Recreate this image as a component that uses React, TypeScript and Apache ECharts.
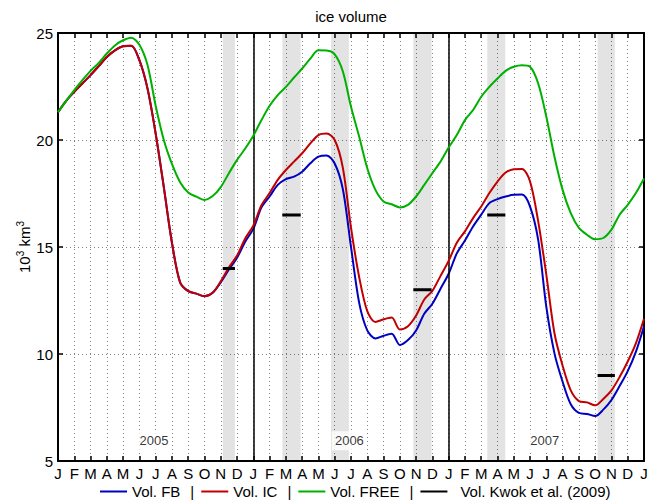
import React, { useEffect, useRef } from 'react';
import * as echarts from 'echarts';

// month tick labels (Jan 2005 .. Jan 2008)
const monthLetters = ['J', 'F', 'M', 'A', 'M', 'J', 'J', 'A', 'S', 'O', 'N', 'D'];

// time in months since 1 Jan 2005
const months = [
  0, 0.5, 1, 1.5, 2, 2.5, 3, 3.5, 4, 4.5, 5, 5.5, 6, 6.5, 7, 7.5, 8, 8.5, 9, 9.5, 10, 10.5, 11, 11.5,
  12, 12.5, 13, 13.5, 14, 14.5, 15, 15.5, 16, 16.5, 17, 17.5, 18, 18.5, 19, 19.5, 20, 20.5, 21, 21.5, 22, 22.5, 23, 23.5,
  24, 24.5, 25, 25.5, 26, 26.5, 27, 27.5, 28, 28.5, 29, 29.5, 30, 30.5, 31, 31.5, 32, 32.5, 33, 33.5, 34, 34.5, 35, 35.5,
  36,
];

const volFB = [
  21.3, 21.83, 22.25, 22.64, 23.03, 23.45, 23.88, 24.19, 24.38, 24.4, 23.73, 22.4, 20.3, 17.8, 15.2, 13.35, 12.94, 12.82, 12.7, 12.86, 13.35, 13.95, 14.5, 15.25,
  15.85, 16.85, 17.36, 17.9, 18.17, 18.29, 18.52, 18.91, 19.22, 19.28, 18.9, 17.7, 15.0, 12.4, 11.1, 10.73, 10.85, 10.95, 10.42, 10.65, 11.1, 11.88, 12.35, 13.05,
  13.75, 14.7, 15.3, 15.96, 16.51, 17.05, 17.24, 17.36, 17.44, 17.45, 16.89, 15.33, 12.2, 10.03, 8.7, 7.65, 7.25, 7.2, 7.1, 7.4, 7.85, 8.5, 9.2, 10.1,
  11.3,
];

const volIC = [
  21.3, 21.83, 22.25, 22.64, 23.03, 23.45, 23.88, 24.19, 24.38, 24.4, 23.73, 22.4, 20.3, 17.8, 15.2, 13.35, 12.94, 12.82, 12.7, 12.86, 13.4, 14.05, 14.6, 15.4,
  16.0, 16.95, 17.52, 18.14, 18.6, 18.99, 19.38, 19.84, 20.23, 20.3, 20.0, 18.7, 15.9, 13.6, 12.0, 11.5, 11.62, 11.7, 11.15, 11.3, 11.8, 12.55, 12.95, 13.65,
  14.35, 15.2, 15.73, 16.35, 16.89, 17.52, 18.06, 18.48, 18.63, 18.65, 18.06, 16.2, 13.7, 10.97, 9.45, 8.3, 7.8, 7.74, 7.6, 7.9, 8.3, 8.92, 9.65, 10.5,
  11.65,
];

const volFREE = [
  21.3, 21.83, 22.33, 22.8, 23.23, 23.6, 24.04, 24.42, 24.66, 24.78, 24.45, 23.5, 21.6, 20.0, 18.88, 18.03, 17.55, 17.35, 17.2, 17.38, 17.8, 18.45, 19.07, 19.6,
  20.2, 20.93, 21.6, 22.1, 22.48, 22.92, 23.34, 23.8, 24.19, 24.18, 24.0, 23.2, 21.55, 20.16, 18.68, 17.67, 17.13, 17.0, 16.85, 16.97, 17.36, 17.9, 18.45, 18.99,
  19.65, 20.23, 20.93, 21.4, 22.02, 22.48, 22.87, 23.23, 23.42, 23.49, 23.42, 22.64, 21.09, 19.22, 17.67, 16.58, 15.89, 15.57, 15.36, 15.42, 15.81, 16.51, 16.97, 17.52,
  18.2,
];

// ICESat campaign periods (grey bands), months since 1 Jan 2005
const campaignStart = [10.12, 13.78, 16.77, 21.83, 26.37, 33.15];
const campaignEnd = [10.87, 14.91, 17.87, 22.95, 27.48, 34.21];

// Kwok et al. (2009) volumes
const kwokStart = [10.12, 13.78, 21.83, 26.37, 33.15];
const kwokEnd = [10.87, 14.91, 22.95, 27.48, 34.21];
const kwokVol = [14, 16.5, 13, 16.5, 9];

const yearLabels = ['2005', '2006', '2007'];
const yearLabelMonth = [5.9, 17.9, 29.9];
const yearLabelLevel = 5.95;
const yearSeparators = [12, 24];

const FONT = '"Liberation Sans", Arial, Helvetica, sans-serif';
const KWOK = 'Vol. Kwok et al. (2009)';

export default function App() {
  const ref = useRef<HTMLDivElement>(null);

  useEffect(() => {
    const chart = echarts.init(ref.current as HTMLDivElement, null, { renderer: 'svg' });
    const pair = (ys: number[]) => months.map((m, i) => [m, ys[i]]);
    const kwokData: any[] = [];
    kwokStart.forEach((s, i) => {
      kwokData.push([s, kwokVol[i]], [kwokEnd[i], kwokVol[i]], [kwokEnd[i], null]);
    });
    const dotted = { color: '#808080', width: 1, type: [1, 3] as any };

    chart.setOption({
      animation: false,
      title: {
        text: 'ice volume',
        left: 351,
        top: 9,
        padding: 0,
        textAlign: 'center',
        textStyle: { fontFamily: FONT, fontSize: 15, fontWeight: 'normal', color: '#000' },
      },
      grid: { left: 58, right: 10, top: 33, bottom: 39, containLabel: false },
      legend: {
        data: [
          { name: 'Vol. FB' },
          { name: 'Vol. IC' },
          { name: 'Vol. FREE' },
          { name: KWOK },
        ],
        left: 99,
        top: 484,
        padding: 0,
        itemWidth: 27,
        itemHeight: 14,
        itemGap: 6,
        itemStyle: { opacity: 0 },
        formatter: (name: string) => (name === KWOK ? '{k|' + name + '}' : '{t|' + name + '}{s||}'),
        textStyle: {
          fontFamily: FONT,
          fontSize: 15,
          color: '#000',
          rich: {
            t: { fontFamily: FONT, fontSize: 15, color: '#000' },
            s: { fontFamily: FONT, fontSize: 15, color: '#000', padding: [0, 0, 0, 10] },
            k: { fontFamily: FONT, fontSize: 15, color: '#000', padding: [0, 0, 0, 8] },
          },
        },
      },
      xAxis: [
        {
          type: 'value',
          min: 0,
          max: 36,
          interval: 1,
          position: 'bottom',
          axisLine: { onZero: false, lineStyle: { color: '#000', width: 2 } },
          axisTick: { inside: true, length: 5, lineStyle: { color: '#000', width: 1.5 } },
          axisLabel: {
            margin: 5,
            fontFamily: FONT,
            fontSize: 15,
            color: '#000',
            formatter: (v: number) => monthLetters[Math.round(v) % 12],
          },
          splitLine: { show: true, lineStyle: dotted },
        },
        {
          type: 'value',
          min: 0,
          max: 36,
          interval: 1,
          position: 'top',
          axisLine: { onZero: false, lineStyle: { color: '#000', width: 2 } },
          axisTick: { inside: true, length: 5, lineStyle: { color: '#000', width: 1.5 } },
          axisLabel: { show: false },
          splitLine: { show: false },
        },
      ],
      yAxis: [
        {
          type: 'value',
          min: 5,
          max: 25,
          interval: 5,
          position: 'left',
          name: '10{sup|3} km{sup|3}',
          nameLocation: 'middle',
          nameRotate: 90,
          nameGap: 24,
          nameMoveOverlap: false,
          nameTextStyle: {
            fontFamily: FONT,
            fontSize: 15,
            color: '#000',
            rich: {
              sup: { fontFamily: FONT, fontSize: 10, color: '#000', padding: [0, 0, 9, 0] },
            },
          },
          axisLine: { onZero: false, lineStyle: { color: '#000', width: 2 } },
          axisTick: { inside: true, length: 5, lineStyle: { color: '#000', width: 1.5 } },
          axisLabel: { margin: 5, fontFamily: FONT, fontSize: 15, color: '#000' },
          splitLine: { show: true, lineStyle: dotted },
        },
        {
          type: 'value',
          min: 5,
          max: 25,
          interval: 5,
          position: 'right',
          axisLine: { onZero: false, lineStyle: { color: '#000', width: 2 } },
          axisTick: { inside: true, length: 5, lineStyle: { color: '#000', width: 1.5 } },
          axisLabel: { show: false },
          splitLine: { show: false },
        },
      ],
      series: [
        {
          type: 'custom',
          name: 'campaigns',
          silent: true,
          z: 1,
          data: campaignStart.map((s, i) => [s, campaignEnd[i]]),
          renderItem: (_p: any, api: any) => {
            const a = api.coord([api.value(0), 25]);
            const b = api.coord([api.value(1), 5]);
            return {
              type: 'rect',
              shape: { x: a[0], y: a[1], width: b[0] - a[0], height: b[1] - a[1] },
              style: { fill: 'rgba(0,0,0,0.11)' },
            };
          },
        },
        {
          type: 'scatter',
          name: 'years',
          silent: true,
          z: 3,
          symbolSize: 1,
          itemStyle: { color: 'rgba(0,0,0,0)' },
          data: yearLabelMonth.map((m, i) => [m, yearLabelLevel, yearLabels[i]]),
          label: {
            show: true,
            position: 'inside',
            formatter: (p: any) => p.value[2],
            fontFamily: FONT,
            fontSize: 13,
            color: '#000',
            backgroundColor: '#fff',
            padding: [3, 3],
          },
        },
        {
          type: 'line',
          name: 'Vol. FB',
          z: 4,
          data: pair(volFB),
          showSymbol: false,
          symbol: 'none',
          smooth: 0.3,
          color: '#0000c0',
          lineStyle: { color: '#0000c0', width: 2 },
          markLine: {
            silent: true,
            symbol: ['none', 'none'],
            label: { show: false },
            lineStyle: { color: '#000', type: 'solid', width: 1.5 },
            data: yearSeparators.map((x) => ({ xAxis: x })),
          },
        },
        {
          type: 'line',
          name: 'Vol. IC',
          z: 5,
          data: pair(volIC),
          showSymbol: false,
          symbol: 'none',
          smooth: 0.3,
          color: '#c00000',
          lineStyle: { color: '#c00000', width: 2 },
        },
        {
          type: 'line',
          name: 'Vol. FREE',
          z: 5,
          data: pair(volFREE),
          showSymbol: false,
          symbol: 'none',
          smooth: 0.3,
          color: '#00b000',
          lineStyle: { color: '#00b000', width: 2 },
        },
        {
          type: 'line',
          name: KWOK,
          z: 6,
          data: kwokData,
          connectNulls: false,
          showSymbol: false,
          symbol: 'none',
          color: '#000',
          lineStyle: { color: '#000', width: 3 },
        },
      ],
    });

    return () => chart.dispose();
  }, []);

  return (
    <div
      ref={ref}
      style={{ position: 'fixed', left: 0, top: 0, width: 654, height: 500, background: '#fff' }}
    />
  );
}
